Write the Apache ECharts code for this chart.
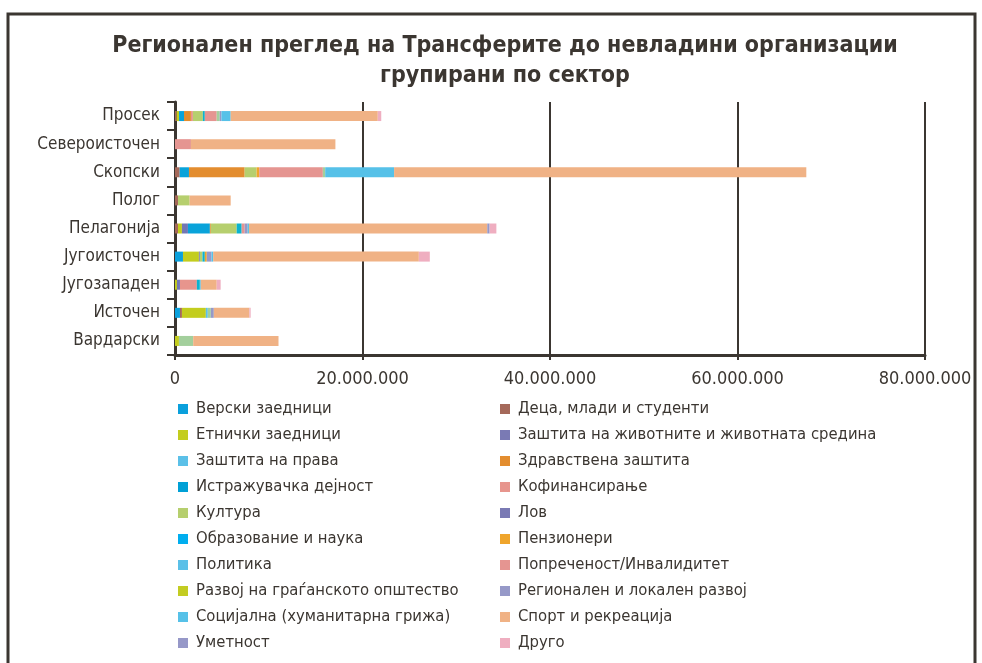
<!DOCTYPE html>
<html>
<head>
<meta charset="utf-8">
<script src="https://cdn.jsdelivr.net/npm/echarts@6/dist/echarts.min.js"></script>
<style>
  html, body { margin: 0; padding: 0; background: #fff; }
  #chart { width: 982px; height: 663px; }
</style>
</head>
<body>
<div id="chart"></div>
<script>
// региони, одозгора надолу
const regions = ['Просек', 'Североисточен', 'Скопски', 'Полог', 'Пелагонија', 'Југоисточен', 'Југозападен', 'Источен', 'Вардарски'];

// вредности по сектор (денари), ист редослед како regions
const verski      = [0, 0, 0, 0, 0, 850000, 0, 530000, 0];
const deca        = [180000, 0, 500000, 320000, 320000, 0, 0, 210000, 0];
const etnicki     = [250000, 0, 0, 0, 420000, 1700000, 210000, 2550000, 420000];
const zivotni     = [0, 0, 0, 0, 640000, 100000, 320000, 0, 0];
const prava       = [530000, 0, 990000, 0, 2340000, 0, 0, 0, 0];
const zdravstvo   = [740000, 0, 5940000, 0, 100000, 0, 0, 0, 0];
const istrazuvanje = [0, 0, 0, 0, 0, 0, 0, 0, 0];
const kofinans    = [210000, 0, 0, 0, 0, 0, 1800000, 0, 0];
const kultura     = [1060000, 0, 1270000, 1240000, 2760000, 280000, 0, 0, 0];
const lov         = [0, 0, 0, 0, 0, 0, 0, 0, 0];
const obrazovanie = [210000, 0, 0, 0, 530000, 250000, 320000, 0, 0];
const penzioneri  = [0, 0, 280000, 0, 0, 210000, 0, 0, 0];
const politika    = [0, 0, 0, 0, 0, 0, 0, 210000, 0];
const poprecenost = [1270000, 1700000, 6790000, 0, 320000, 0, 0, 0, 0];
const razvoj      = [320000, 0, 250000, 0, 0, 0, 0, 320000, 1520000];
const regionalen  = [180000, 0, 0, 0, 320000, 500000, 0, 320000, 0];
const socijalna   = [990000, 0, 7350000, 0, 140000, 180000, 100000, 0, 0];
const sport       = [15690000, 15410000, 43970000, 4380000, 25420000, 21940000, 1700000, 3790000, 9100000];
const umetnost    = [0, 0, 0, 0, 250000, 0, 0, 0, 0];
const drugo       = [370000, 0, 0, 0, 720000, 1170000, 420000, 140000, 0];

const xTicks = [0, 20000000, 40000000, 60000000, 80000000];

// [име, податоци, боја на столбот, боја во легендата]
const sectors = [
  ['Верски заедници', verski, '#0aa0dc', '#0aa0dc'],
  ['Деца, млади и студенти', deca, '#a5695a', '#a5695a'],
  ['Етнички заедници', etnicki, '#c3cd1e', '#c3cd1e'],
  ['Заштита на животните и животната средина', zivotni, '#7377b4', '#7a7ab4'],
  ['Заштита на права', prava, '#09a3da', '#5bc0e8'],
  ['Здравствена заштита', zdravstvo, '#e38d2f', '#e38d2f'],
  ['Истражувачка дејност', istrazuvanje, '#00a0d6', '#00a0d6'],
  ['Кофинансирање', kofinans, '#e7958d', '#e7958d'],
  ['Култура', kultura, '#b6cf6e', '#b6cf6e'],
  ['Лов', lov, '#7a7ab4', '#7a7ab4'],
  ['Образование и наука', obrazovanie, '#0bb3cf', '#00aeef'],
  ['Пензионери', penzioneri, '#efa52c', '#efa52c'],
  ['Политика', politika, '#5bc0e8', '#5bc0e8'],
  ['Попреченост/Инвалидитет', poprecenost, '#e59591', '#e59591'],
  ['Развој на граѓанското општество', razvoj, '#a3cf9c', '#c3cc22'],
  ['Регионален и локален развој', regionalen, '#9699c8', '#9699c8'],
  ['Социјална (хуманитарна грижа)', socijalna, '#56c1e8', '#56c1e8'],
  ['Спорт и рекреација', sport, '#f0b285', '#f0b285'],
  ['Уметност', umetnost, '#9698c8', '#9698c8'],
  ['Друго', drugo, '#efaec0', '#efaec0']
];

const legendLeft = ['Верски заедници', 'Етнички заедници', 'Заштита на права', 'Истражувачка дејност', 'Култура',
  'Образование и наука', 'Политика', 'Развој на граѓанското општество', 'Социјална (хуманитарна грижа)', 'Уметност'];
const legendRight = ['Деца, млади и студенти', 'Заштита на животните и животната средина', 'Здравствена заштита',
  'Кофинансирање', 'Лов', 'Пензионери', 'Попреченост/Инвалидитет', 'Регионален и локален развој', 'Спорт и рекреација', 'Друго'];

const ink = '#3b3631';
const font = '"DejaVu Sans Condensed", "Liberation Sans Narrow", sans-serif';

const legendColor = {};
sectors.forEach(s => { legendColor[s[0]] = s[3]; });

const fmt = (v) => String(v).replace(/\B(?=(\d{3})+(?!\d))/g, '.');

const makeLegend = (names, left) => ({
  orient: 'vertical',
  left: left,
  top: 394,
  itemWidth: 10,
  itemHeight: 10,
  itemGap: 6,
  icon: 'rect',
  selectedMode: false,
  data: names.map(n => ({ name: n, itemStyle: { color: legendColor[n] } })),
  textStyle: { fontFamily: font, fontSize: 16.5, color: ink, lineHeight: 20, padding: [0, 0, 0, 3] }
});

const myChart = echarts.init(document.getElementById('chart'));

const option = {
  animation: false,
  title: {
    text: 'Регионален преглед на Трансферите до невладини организации\nгрупирани по сектор',
    left: 500,
    top: 26,
    textAlign: 'center',
    textStyle: { fontFamily: font, fontSize: 23, fontWeight: 'bold', color: ink, lineHeight: 30 }
  },
  graphic: [{
    type: 'polyline',
    shape: { points: [[8, 663], [8, 14], [975, 14], [975, 663]] },
    style: { stroke: ink, lineWidth: 3, fill: null }
  }],
  legend: [makeLegend(legendLeft, 173), makeLegend(legendRight, 495)],
  grid: { left: 175, right: 57, top: 102, bottom: 308, containLabel: false },
  xAxis: {
    type: 'value',
    min: 0,
    max: 80000000,
    interval: 20000000,
    axisLine: { show: true, lineStyle: { color: ink, width: 3 } },
    axisTick: { show: true, length: 5, lineStyle: { color: ink, width: 2 } },
    splitLine: { show: true, lineStyle: { color: ink, width: 2 } },
    axisLabel: {
      formatter: fmt,
      fontFamily: font, fontSize: 18, color: ink, margin: 15,
      customValues: xTicks
    }
  },
  yAxis: {
    type: 'category',
    data: regions,
    inverse: true,
    axisLine: { show: true, lineStyle: { color: ink, width: 3 } },
    axisTick: { show: true, length: 8, lineStyle: { color: ink, width: 2 } },
    axisLabel: { fontFamily: font, fontSize: 17, color: ink, margin: 15 }
  },
  series: sectors.map(s => ({
    name: s[0],
    type: 'bar',
    stack: 'total',
    barWidth: 10,
    data: s[1],
    itemStyle: { color: s[2] }
  }))
};

myChart.setOption(option);
</script>
</body>
</html>
